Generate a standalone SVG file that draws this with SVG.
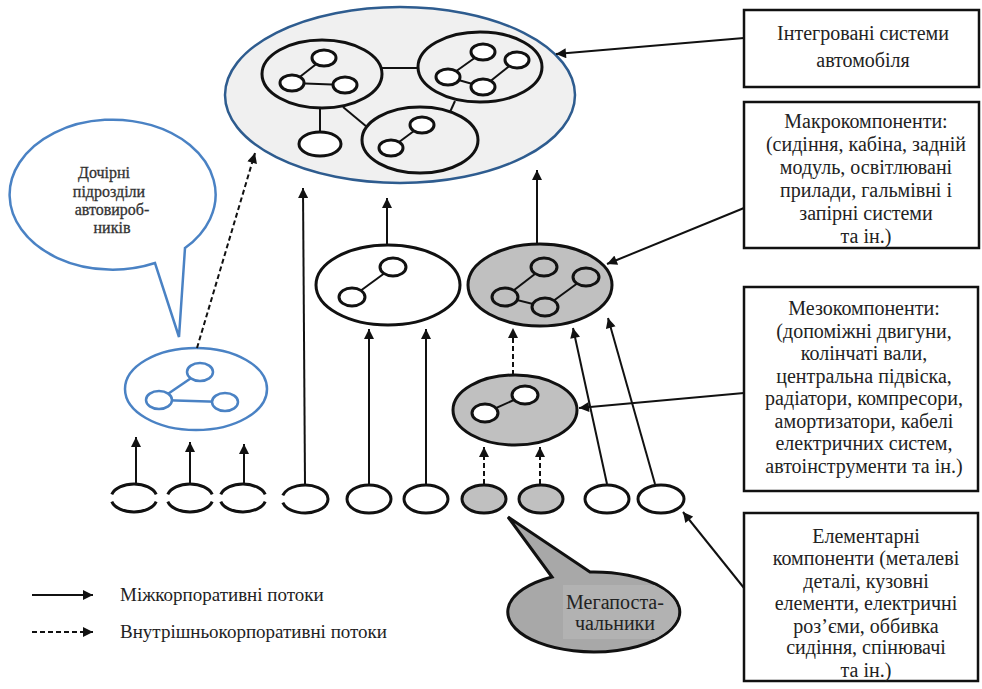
<svg xmlns="http://www.w3.org/2000/svg" width="982" height="689" viewBox="0 0 982 689">
<defs>
<marker id="ah" viewBox="0 0 10 10" refX="10" refY="5" markerWidth="11" markerHeight="10" markerUnits="userSpaceOnUse" orient="auto"><path d="M0,0 L10,5 L0,10 z" fill="#111"/></marker>
<clipPath id="megaclip"><ellipse cx="593" cy="612" rx="85" ry="39"/></clipPath>
<style>
.t{font-family:"Liberation Serif","Times New Roman",serif;font-size:20px;fill:#222;text-anchor:middle}
.lg{font-family:"Liberation Serif","Times New Roman",serif;font-size:19px;fill:#222}
.bt{font-family:"Liberation Serif","Times New Roman",serif;font-size:16px;fill:#333;stroke:#333;stroke-width:0.3;text-anchor:middle}
.box{fill:#fff;stroke:#111;stroke-width:2.5}
.big{stroke:#111;stroke-width:3;fill:none}
.sm{stroke:#111;stroke-width:3;fill:#fff}
.lk{stroke:#111;stroke-width:2}
.blue{stroke:#4a82c4;stroke-width:2.5;fill:none}
.bsm{stroke:#4a82c4;stroke-width:2.5;fill:#fff}
.c{stroke:#111;stroke-width:3;fill:#fff}
.g{stroke:#111;stroke-width:3;fill:#c0c0c0}
.arr{stroke:#111;stroke-width:2;fill:none;marker-end:url(#ah)}
.dash{stroke:#111;stroke-width:2;fill:none;stroke-dasharray:5 3;marker-end:url(#ah)}
</style>
</defs>
<rect width="982" height="689" fill="#fff"/>

<g id="integrated">
<ellipse cx="400" cy="95" rx="175" ry="88" fill="#f0f0f0" stroke="#2e5c8f" stroke-width="2.5"/>
<line class="lk" x1="382" y1="68" x2="418" y2="68"/>
<line class="lk" x1="320" y1="107" x2="320" y2="131"/>
<line class="lk" x1="343" y1="107" x2="367" y2="127"/>
<line class="lk" x1="455" y1="101" x2="450" y2="112"/>
<ellipse class="big" cx="322" cy="74" rx="60" ry="34"/>
<line class="lk" x1="292" y1="83" x2="324" y2="58"/>
<line class="lk" x1="292" y1="83" x2="345" y2="85"/>
<ellipse class="sm" cx="324" cy="58" rx="12" ry="8"/>
<ellipse class="sm" cx="292" cy="83" rx="12" ry="8"/>
<ellipse class="sm" cx="345" cy="85" rx="12" ry="8"/>
<ellipse class="big" cx="480" cy="67" rx="62" ry="35"/>
<line class="lk" x1="448" y1="77" x2="483" y2="52"/>
<line class="lk" x1="448" y1="77" x2="483" y2="87"/>
<line class="lk" x1="483" y1="87" x2="517" y2="60"/>
<ellipse class="sm" cx="483" cy="52" rx="12" ry="8"/>
<ellipse class="sm" cx="517" cy="60" rx="12" ry="8"/>
<ellipse class="sm" cx="448" cy="77" rx="12" ry="8"/>
<ellipse class="sm" cx="483" cy="87" rx="12" ry="8"/>
<ellipse class="big" cx="420" cy="140" rx="58" ry="33"/>
<line class="lk" x1="391" y1="148" x2="422" y2="125"/>
<ellipse class="sm" cx="422" cy="125" rx="12" ry="8"/>
<ellipse class="sm" cx="391" cy="148" rx="12" ry="8"/>
<ellipse class="sm" cx="320" cy="144" rx="21" ry="12"/>
</g>

<g id="macro-white">
<ellipse class="c" cx="388" cy="285" rx="72" ry="40"/>
<line class="lk" x1="352" y1="297" x2="393" y2="267"/>
<ellipse class="sm" cx="393" cy="267" rx="13" ry="9"/>
<ellipse class="sm" cx="352" cy="297" rx="13" ry="9"/>
</g>

<g id="macro-gray">
<ellipse class="g" cx="540" cy="285" rx="72" ry="41"/>
<line class="lk" x1="505" y1="297" x2="544" y2="267"/>
<line class="lk" x1="505" y1="297" x2="545" y2="307"/>
<line class="lk" x1="545" y1="307" x2="586" y2="277"/>
<ellipse class="g" cx="544" cy="267" rx="13" ry="9"/>
<ellipse class="g" cx="586" cy="277" rx="13" ry="9"/>
<ellipse class="g" cx="505" cy="297" rx="13" ry="9"/>
<ellipse class="g" cx="545" cy="307" rx="13" ry="9"/>
</g>

<g id="meso-gray">
<ellipse class="g" cx="515" cy="410" rx="62" ry="35"/>
<line class="lk" x1="485" y1="413" x2="525" y2="395"/>
<ellipse class="sm" cx="525" cy="395" rx="13" ry="9"/>
<ellipse class="sm" cx="485" cy="413" rx="13" ry="9"/>
</g>

<g id="subsidiary">
<ellipse class="blue" cx="196" cy="389" rx="71" ry="41"/>
<line class="blue" x1="159" y1="400" x2="200" y2="372"/>
<line class="blue" x1="159" y1="400" x2="225" y2="402"/>
<ellipse class="bsm" cx="200" cy="372" rx="13" ry="9"/>
<ellipse class="bsm" cx="159" cy="400" rx="13" ry="9"/>
<ellipse class="bsm" cx="225" cy="402" rx="13" ry="9"/>
</g>

<g id="bubble-subsidiaries">
<path d="M155,263 A103 75 0 1 1 185,248 L179,337 Z" fill="#fff" stroke="#4a82c4" stroke-width="2.5"/>
<text class="bt" x="104" y="178">Дочірні</text>
<text class="bt" x="109" y="197">підрозділи</text>
<text class="bt" x="112" y="215">автовироб-</text>
<text class="bt" x="112" y="233">ників</text>
</g>

<g id="elements">
<path class="big" d="M111.8,494.4 A23 14 0 0 1 156.2,494.4 M111.8,501.6 A23 14 0 0 0 156.2,501.6"/>
<path class="big" d="M167.8,494.4 A23 14 0 0 1 212.2,494.4 M167.8,501.6 A23 14 0 0 0 212.2,501.6"/>
<path class="big" d="M220.8,494.4 A23 14 0 0 1 265.2,494.4 M220.8,501.6 A23 14 0 0 0 265.2,501.6"/>
<path class="big" d="M282.8,495.4 A23 14 0 1 1 282.8,502.6"/>
<ellipse class="c" cx="369" cy="499" rx="22" ry="14"/>
<ellipse class="c" cx="426" cy="499" rx="22" ry="14"/>
<ellipse class="g" cx="484" cy="499" rx="22" ry="14"/>
<ellipse class="g" cx="541" cy="499" rx="22" ry="14"/>
<ellipse class="c" cx="607" cy="499" rx="22" ry="14"/>
<ellipse class="c" cx="661" cy="499" rx="23" ry="14"/>
</g>

<g id="bubble-megasuppliers">
<path d="M552,577 L508,517 L590,572 A86 40 0 1 1 552,577 Z" fill="#a8a8a8" stroke="#111" stroke-width="3"/>
<rect x="563" y="585" width="115" height="54" fill="#b2b2b2" clip-path="url(#megaclip)"/>
<text class="t" x="615" y="609" font-size="18">Мегапоста-</text>
<text class="t" x="615" y="630" font-size="18">чальники</text>
</g>

<g id="box-integrated">
<rect class="box" x="744" y="10" width="235" height="77"/>
<text class="t" x="863" y="40">Інтегровані системи</text>
<text class="t" x="863" y="67">автомобіля</text>
</g>

<g id="box-macro">
<rect class="box" x="744" y="102" width="235" height="146"/>
<text class="t" x="866" y="128">Макрокомпоненти:</text>
<text class="t" x="866" y="151">(сидіння, кабіна, задній</text>
<text class="t" x="866" y="174">модуль, освітлювані</text>
<text class="t" x="866" y="197">прилади, гальмівні і</text>
<text class="t" x="866" y="220">запірні системи</text>
<text class="t" x="866" y="243">та ін.)</text>
</g>

<g id="box-meso">
<rect class="box" x="744" y="287" width="234" height="204"/>
<text class="t" x="864" y="315">Мезокомпоненти:</text>
<text class="t" x="864" y="338">(допоміжні двигуни,</text>
<text class="t" x="864" y="360">колінчаті вали,</text>
<text class="t" x="864" y="383">центральна підвіска,</text>
<text class="t" x="864" y="405">радіатори, компресори,</text>
<text class="t" x="864" y="428">амортизатори, кабелі</text>
<text class="t" x="864" y="450">електричних систем,</text>
<text class="t" x="864" y="473">автоінструменти та ін.)</text>
</g>

<g id="box-elementary">
<rect class="box" x="744" y="513" width="234" height="168"/>
<text class="t" x="866" y="543">Елементарні</text>
<text class="t" x="866" y="565">компоненти (металеві</text>
<text class="t" x="866" y="588">деталі, кузовні</text>
<text class="t" x="866" y="610">елементи, електричні</text>
<text class="t" x="866" y="633">роз’єми, оббивка</text>
<text class="t" x="866" y="654">сидіння, спінювачі</text>
<text class="t" x="866" y="677">та ін.)</text>
</g>

<g id="connectors">
<line class="arr" x1="305" y1="484" x2="303" y2="188"/>
<line class="arr" x1="387" y1="244" x2="387" y2="198"/>
<line class="arr" x1="537" y1="244" x2="537" y2="170"/>
<line class="arr" x1="369" y1="484" x2="369" y2="329"/>
<line class="arr" x1="426" y1="484" x2="426" y2="329"/>
<line class="arr" x1="136" y1="483" x2="136" y2="437"/>
<line class="arr" x1="190" y1="483" x2="190" y2="442"/>
<line class="arr" x1="244" y1="483" x2="244" y2="444"/>
<line class="arr" x1="607" y1="484" x2="573" y2="328"/>
<line class="arr" x1="655" y1="484" x2="608" y2="318"/>
<line class="arr" x1="744" y1="38" x2="556" y2="54"/>
<line class="arr" x1="744" y1="208" x2="607" y2="264"/>
<line class="arr" x1="744" y1="393" x2="579" y2="408"/>
<line class="arr" x1="744" y1="588" x2="683" y2="512"/>
<line class="dash" x1="197" y1="348" x2="255" y2="153"/>
<line class="dash" x1="513" y1="375" x2="513" y2="328"/>
<line class="dash" x1="484" y1="484" x2="484" y2="447"/>
<line class="dash" x1="540" y1="484" x2="540" y2="447"/>
</g>

<g id="legend">
<line class="arr" x1="32" y1="595" x2="93" y2="595"/>
<line class="dash" x1="32" y1="632" x2="93" y2="632"/>
<text class="lg" x="120" y="601">Міжкорпоративні потоки</text>
<text class="lg" x="120" y="638">Внутрішньокорпоративні потоки</text>
</g>
</svg>
